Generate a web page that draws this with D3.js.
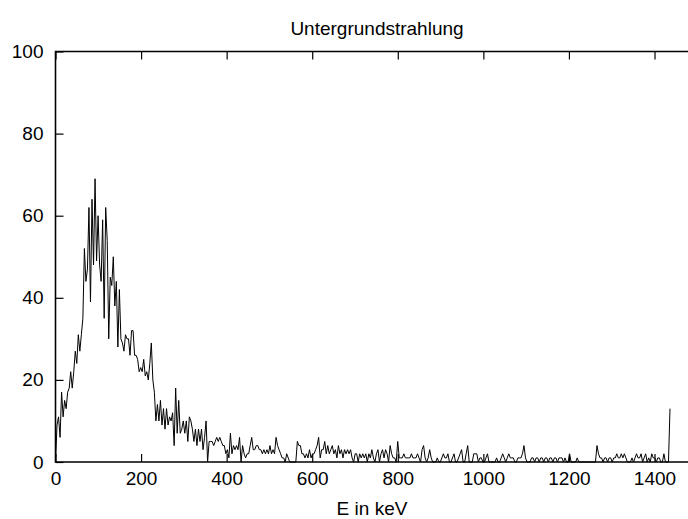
<!DOCTYPE html>
<html>
<head>
<meta charset="utf-8">
<script src="https://cdn.jsdelivr.net/npm/d3@7"></script>
<style>
  body { margin: 0; background: #fff; }
  svg text { font-family: "Liberation Sans", Arial, sans-serif; fill: #000; }
</style>
</head>
<body>
<div id="chart"></div>
<script>
// spectrum, one count per channel
const keVPerChannel = 3.555;
const counts = [
    // 0 - 135 keV
    0, 9, 11, 6, 17, 11, 15, 13, 17, 18, 22, 18, 22, 27, 24, 31, 27, 31, 35, 52,
    44, 47, 62, 39, 64, 48, 69, 49, 60, 48, 44, 59, 35, 62, 54, 30, 45, 43, 50,
    // 135 - 275 keV
    38, 44, 28, 42, 30, 29, 27, 31, 30, 30, 26, 32, 32, 26, 26, 25, 22, 23, 22, 25,
    21, 22, 20, 24, 29, 20, 17, 10, 14, 10, 15, 9, 13, 8, 13, 9, 11, 10, 12,
    // 275 - 450 keV
    4, 18, 7, 15, 7, 8, 10, 7, 10, 5, 11, 10, 8, 5, 8, 4, 8, 5, 8, 3,
    6, 10, 0, 5, 5, 5, 4, 5, 6, 5, 6, 5, 4, 4, 2, 3, 1, 7, 2, 4,
    3, 4, 3, 6, 0, 4, 2, 1, 2,
    // 450 - 710 keV
    2, 4, 6, 3, 3, 4, 4, 3, 3, 2, 3, 2, 3, 2, 4, 2, 3, 2, 6, 4,
    3, 2, 1, 1, 0, 2, 1, 0, 0, 0, 0, 0, 5, 4, 4, 2, 2, 1, 2, 1,
    3, 1, 2, 2, 3, 4, 6, 1, 3, 3, 5, 2, 4, 2, 3, 4, 2, 3, 1, 4,
    2, 3, 1, 3, 2, 3, 2, 3, 1, 0, 2, 2, 0, 2,
    // 710 - 1080 keV
    1, 2, 1, 2, 0, 2, 1, 3, 1, 0, 2, 3, 0, 2, 3, 1, 3, 2, 0, 4,
    2, 1, 1, 0, 5, 1, 1, 1, 2, 1, 1, 1, 1, 2, 1, 1, 1, 2, 1, 0,
    3, 4, 1, 0, 1, 3, 1, 0, 0, 0, 1, 0, 0, 1, 2, 1, 1, 2, 0, 0,
    1, 2, 0, 0, 1, 2, 3, 0, 0, 2, 4, 0, 0, 0, 2, 2, 2, 0, 1, 1,
    0, 0, 1, 2, 0, 0, 0, 0, 0, 1, 0, 0, 1, 2, 1, 0, 1, 2, 1, 1,
    1, 0, 0, 1, 1,
    // 1080 - 1436 keV
    1, 2, 4, 1, 0, 0, 0, 1, 1, 0, 1, 1, 0, 1, 1, 0, 1, 1, 0, 1,
    1, 0, 1, 1, 0, 1, 1, 1, 0, 1, 0, 0, 2, 0, 0, 0, 0, 1, 0, 0,
    0, 0, 0, 0, 0, 0, 0, 0, 0, 0, 4, 2, 1, 1, 0, 1, 1, 0, 1, 1,
    0, 1, 1, 2, 1, 1, 2, 1, 2, 1, 0, 0, 0, 1, 0, 1, 2, 1, 1, 2,
    0, 1, 2, 0, 1, 0, 2, 1, 1, 0, 1, 1, 0, 0, 2, 0, 0, 0, 13
];

const titleText = "Untergrundstrahlung";
const xLabelText = "E in keV";
const xTicks = [0, 200, 400, 600, 800, 1000, 1200, 1400];
const yTicks = [0, 20, 40, 60, 80, 100];

const width = 688;
const height = 519;
const plotLeft = 55.5;
const plotTop = 51.5;
const plotBottom = 462;
const fontSize = "19px";

const svg = d3.select("#chart").append("svg")
    .attr("width", width)
    .attr("height", height);

// x range runs past the right edge, the frame is cut off there
const x = d3.scaleLinear().domain([0, 1500]).range([plotLeft, plotLeft + 1500 * (599 / 1400)]);
const y = d3.scaleLinear().domain([0, 100]).range([plotBottom, plotTop]);

const tickLen = 8;

// bottom axis with inward ticks
const xAxis = svg.append("g")
    .attr("transform", `translate(0,${plotBottom})`)
    .call(d3.axisBottom(x).tickValues(xTicks).tickFormat(d3.format("d"))
        .tickSizeInner(-tickLen).tickSizeOuter(0).tickPadding(10));

// mirrored ticks on top
const xAxisTop = svg.append("g")
    .attr("transform", `translate(0,${plotTop})`)
    .call(d3.axisTop(x).tickValues(xTicks).tickSizeInner(-tickLen).tickSizeOuter(0).tickFormat(""));

const yAxis = svg.append("g")
    .attr("transform", `translate(${plotLeft},0)`)
    .call(d3.axisLeft(y).tickValues(yTicks).tickFormat(d3.format("d"))
        .tickSizeInner(-tickLen).tickSizeOuter(0).tickPadding(12));

[xAxis, xAxisTop, yAxis].forEach(g => {
    g.select(".domain").remove();
    g.selectAll(".tick line").attr("stroke", "#000").attr("stroke-width", 1.2);
    g.selectAll("text")
        .style("font-size", fontSize)
        .attr("fill", "#000");
});

// data line
const line = d3.line()
    .x((d, i) => x(i * keVPerChannel))
    .y(d => y(d));

svg.append("path")
    .datum(counts)
    .attr("fill", "none")
    .attr("stroke", "#000")
    .attr("stroke-width", 1)
    .attr("stroke-linejoin", "miter")
    .attr("d", line);

// frame (left, bottom, top)
svg.append("path")
    .attr("fill", "none")
    .attr("stroke", "#000")
    .attr("stroke-width", 1.6)
    .attr("d", `M${width + 5},${plotTop}H${plotLeft}V${plotBottom}H${width + 5}`);

svg.append("text")
    .attr("x", 377)
    .attr("y", 35)
    .attr("text-anchor", "middle")
    .style("font-size", fontSize)
    .text(titleText);

svg.append("text")
    .attr("x", 372)
    .attr("y", 515)
    .attr("text-anchor", "middle")
    .style("font-size", fontSize)
    .text(xLabelText);
</script>
</body>
</html>
